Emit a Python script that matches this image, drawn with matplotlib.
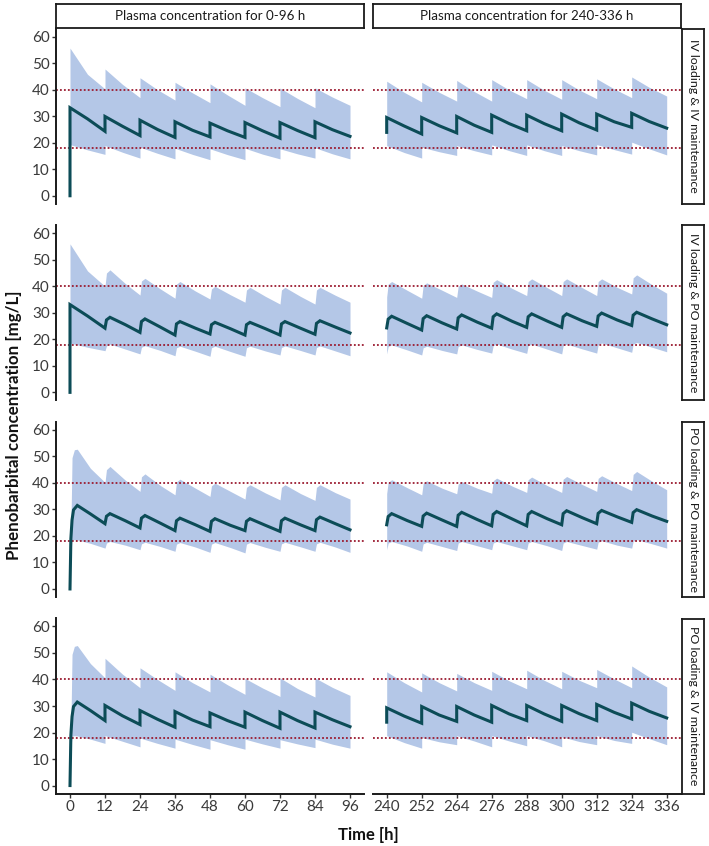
import matplotlib
matplotlib.use("Agg")
import matplotlib.pyplot as plt

plt.rcParams['font.family'] = ['Lato', 'DejaVu Sans']

# ---------------- data ----------------
col_titles = ["Plasma concentration for 0-96 h", "Plasma concentration for 240-336 h"]
row_titles = ["IV loading & IV maintenance", "IV loading & PO maintenance",
              "PO loading & PO maintenance", "PO loading & IV maintenance"]
x_ticks_early = [0, 12, 24, 36, 48, 60, 72, 84, 96]
x_ticks_late = [240, 252, 264, 276, 288, 300, 312, 324, 336]
y_ticks = [0, 10, 20, 30, 40, 50, 60]
target_range = [18, 40]

doses_early = [0, 12, 24, 36, 48, 60, 72, 84]
doses_late = [240, 252, 264, 276, 288, 300, 312, 324]

# sample times after each dose (h): IV -> peak, mid, trough ; PO -> rising, peak, mid, trough
iv_offsets = [0, 6, 12]
po_offsets = [0.5, 1.7, 7, 12]
# oral loading dose, first interval
po_load_t_median = [0, 0.3, 0.7, 1.2, 2.5, 7, 12]
po_load_t_band = [0.3, 0.7, 1.5, 2.5, 7, 12]

# ---- Row 1: IV loading & IV maintenance ----
r1_early_med = [0.0,
                33.2, 29.0, 24.3, 29.9, 26.2, 22.7, 28.5, 25.0, 22.0, 27.9, 24.7, 22.2,
                27.4, 24.5, 22.0, 27.6, 24.5, 21.7, 27.6, 24.6, 21.9, 27.9, 24.9, 22.4]
r1_early_hi = [55.7, 45.8, 40.3, 47.8, 42.0, 37.0, 44.5, 40.0, 36.1, 42.8, 38.8, 35.1,
               42.2, 38.0, 34.1, 40.7, 37.0, 33.6, 40.6, 36.7, 33.2, 40.7, 37.2, 34.1]
r1_early_lo = [19.3, 17.3, 15.6, 18.9, 16.4, 14.2, 18.3, 16.0, 13.9, 17.9, 15.6, 13.6,
               17.7, 15.5, 13.6, 17.9, 15.7, 13.9, 17.7, 15.8, 14.2, 18.1, 15.8, 13.9]
r1_late_med = [23.9,
               29.5, 26.3, 23.3, 29.5, 26.4, 23.7, 29.9, 26.6, 23.9, 30.4, 27.2, 24.5,
               30.4, 27.2, 24.5, 30.8, 27.5, 24.8, 30.8, 27.9, 25.8, 31.1, 28.0, 25.5]
r1_late_hi = [43.2, 39.0, 35.4, 42.8, 39.0, 35.7, 43.5, 39.3, 35.7, 43.8, 39.9, 36.6,
              43.8, 39.8, 36.4, 43.8, 39.9, 36.6, 44.1, 40.3, 37.0, 44.8, 40.9, 37.6]
r1_late_lo = [18.9, 16.3, 14.2, 18.3, 16.6, 15.2, 18.9, 17.0, 15.4, 19.2, 17.0, 15.2,
              19.2, 17.0, 15.2, 18.9, 17.0, 15.4, 19.3, 17.4, 15.7, 20.2, 17.7, 15.4]

# ---- Row 2: IV loading & PO maintenance ----
r2_early_med = [0.0, 33.1, 28.8, 24.2,
                27.3, 28.3, 25.5, 22.6, 26.7, 27.7, 24.6, 21.6, 25.8, 26.7, 24.2, 22.0,
                25.5, 26.4, 24.0, 21.6, 25.5, 26.4, 24.0, 21.6, 25.8, 26.7, 24.2, 21.9,
                26.0, 27.0, 24.6, 22.4]
r2_early_hi = [56.0, 45.8, 40.0,
               45.0, 46.2, 41.0, 36.7, 42.0, 43.0, 39.0, 35.5, 40.8, 41.8, 38.2, 35.2,
               39.0, 40.0, 36.8, 34.0, 38.6, 39.6, 36.2, 33.3, 38.6, 39.6, 36.2, 33.3,
               38.6, 39.6, 36.6, 34.0]
r2_early_lo = [18.6, 17.0, 15.7,
               17.5, 18.2, 16.3, 14.5, 17.0, 17.6, 15.8, 13.8, 16.8, 17.4, 15.5, 13.6,
               16.8, 17.4, 15.4, 13.6, 16.8, 17.4, 15.6, 14.1, 16.9, 17.5, 15.8, 14.1,
               16.9, 17.5, 15.6, 13.8]
r2_late_med = [24.3,
               27.6, 28.7, 26.0, 23.5, 27.8, 28.9, 26.2, 23.9, 28.1, 29.2, 26.5, 24.2,
               28.5, 29.6, 26.8, 24.5, 28.5, 29.6, 26.9, 24.5, 28.5, 29.6, 27.0, 24.9,
               28.8, 29.9, 27.3, 25.2, 29.1, 30.2, 27.7, 25.5]
r2_late_hi = [36.0,
              40.8, 41.8, 38.5, 35.5, 40.3, 41.3, 38.5, 35.8, 40.0, 40.9, 38.2, 35.8,
              41.5, 42.5, 39.2, 36.5, 41.8, 42.8, 39.5, 36.5, 41.8, 42.8, 39.5, 36.5,
              41.8, 42.8, 39.6, 37.1, 43.2, 44.3, 40.6, 37.4]
r2_late_lo = [14.5,
              17.3, 17.9, 16.0, 14.1, 16.8, 17.4, 15.8, 14.5, 17.3, 17.9, 16.2, 14.8,
              17.6, 18.2, 16.3, 14.7, 17.6, 18.2, 16.3, 14.5, 17.6, 18.2, 16.4, 14.8,
              18.0, 18.6, 16.8, 15.1, 18.2, 18.8, 17.0, 15.3]

# ---- Row 3: PO loading & PO maintenance ----
r3_early_med = [0.0, 19.0, 26.0, 29.8, 31.5, 28.3, 24.6,
                27.4, 28.4, 25.7, 23.0, 26.7, 27.7, 24.8, 22.0, 25.7, 26.7, 24.2, 21.7,
                25.5, 26.5, 24.0, 22.0, 25.5, 26.5, 24.0, 21.7, 25.7, 26.7, 24.2, 22.0,
                26.1, 27.1, 24.6, 22.3]
r3_early_hi = [22.0, 49.5, 52.5, 52.7, 45.5, 40.2,
               45.0, 46.2, 41.0, 36.8, 42.3, 43.4, 39.0, 35.5, 40.4, 41.4, 38.0, 34.9,
               38.9, 39.9, 36.8, 33.9, 38.3, 39.3, 36.2, 33.6, 38.3, 39.3, 36.0, 33.4,
               38.3, 39.3, 36.3, 33.9]
r3_early_lo = [14.0, 18.4, 18.6, 18.5, 17.2, 15.4,
               17.3, 17.9, 16.5, 14.8, 17.0, 17.6, 16.0, 14.2, 16.9, 17.5, 15.8, 13.8,
               16.9, 17.5, 15.6, 13.6, 16.9, 17.5, 15.7, 14.2, 17.0, 17.6, 15.9, 14.2,
               17.0, 17.6, 15.8, 13.8]
r3_late_med = [24.2,
               27.3, 28.4, 25.8, 23.6, 27.5, 28.6, 26.0, 23.6, 27.8, 28.9, 26.2, 23.8,
               28.1, 29.2, 26.4, 23.8, 28.1, 29.2, 26.5, 24.2, 28.4, 29.5, 26.9, 24.6,
               28.5, 29.6, 27.2, 25.1, 28.8, 29.9, 27.5, 25.5]
r3_late_hi = [36.0,
              40.2, 41.2, 38.2, 35.5, 39.8, 40.8, 38.0, 35.9, 39.5, 40.5, 38.0, 36.1,
              40.8, 41.8, 38.8, 36.4, 41.2, 42.2, 39.0, 36.4, 41.4, 42.4, 39.4, 36.8,
              41.7, 42.7, 39.7, 37.1, 43.2, 44.3, 40.6, 37.4]
r3_late_lo = [14.8,
              17.3, 17.9, 16.2, 14.2, 17.0, 17.6, 16.0, 14.5, 17.3, 17.9, 16.3, 14.8,
              17.3, 17.9, 16.3, 14.8, 17.3, 17.9, 16.3, 14.5, 17.3, 17.9, 16.4, 15.0,
              17.6, 18.2, 16.5, 15.4, 18.0, 18.6, 17.0, 15.4]

# ---- Row 4: PO loading & IV maintenance ----
r4_early_med = [0.0, 19.0, 26.0, 29.8, 31.5, 28.3, 24.5,
                30.2, 26.3, 23.0, 28.3, 25.0, 22.0, 27.9, 24.7, 22.2, 27.4, 24.5, 22.0,
                27.7, 24.5, 21.6, 27.7, 24.5, 21.7, 27.7, 24.8, 22.2]
r4_early_hi = [22.0, 49.5, 52.5, 52.8, 46.0, 40.6,
               48.0, 42.0, 36.9, 44.4, 40.0, 35.9, 42.9, 38.8, 35.3, 42.0, 38.0, 34.4,
               40.4, 36.8, 33.6, 40.6, 36.6, 33.4, 40.6, 37.0, 34.0]
r4_early_lo = [14.0, 18.6, 18.8, 18.7, 17.5, 15.9,
               18.8, 16.7, 14.6, 17.9, 15.9, 14.1, 17.5, 15.5, 13.7, 17.3, 15.4, 13.7,
               17.5, 15.7, 14.1, 17.3, 15.7, 14.3, 17.5, 15.6, 14.1]
r4_late_med = [23.9,
               29.3, 26.2, 23.5, 29.8, 26.6, 24.2, 29.8, 26.6, 23.9, 30.2, 27.0, 24.5,
               30.2, 27.0, 24.2, 30.2, 27.1, 24.5, 30.6, 27.6, 25.1, 31.1, 28.0, 25.5]
r4_late_hi = [42.9, 38.8, 35.3, 42.5, 38.8, 35.7, 42.3, 38.8, 35.9, 43.1, 39.5, 36.5,
              43.5, 39.7, 36.5, 43.1, 39.7, 36.9, 43.8, 40.2, 36.9, 45.1, 40.9, 37.2]
r4_late_lo = [18.8, 16.2, 14.1, 18.1, 16.5, 15.4, 18.8, 16.8, 14.6, 18.8, 16.8, 15.0,
              18.8, 16.9, 14.6, 18.4, 16.6, 15.4, 18.8, 17.0, 15.9, 20.1, 17.7, 15.4]


# ---------------- assemble times ----------------
def after(doses, offsets):
    return [d + o for d in doses for o in offsets]


iv_e = after(doses_early, iv_offsets)
iv_l = after(doses_late, iv_offsets)
po_l = after(doses_late, po_offsets)

panels = [
    # row, col, t_median, median, t_band, hi, lo
    (0, 0, [0] + iv_e, r1_early_med, iv_e, r1_early_hi, r1_early_lo),
    (0, 1, [240] + iv_l, r1_late_med, iv_l, r1_late_hi, r1_late_lo),
    (1, 0, [0] + after([0], iv_offsets) + after(doses_early[1:], po_offsets), r2_early_med,
     after([0], iv_offsets) + after(doses_early[1:], po_offsets), r2_early_hi, r2_early_lo),
    (1, 1, [240] + po_l, r2_late_med, [240] + po_l, r2_late_hi, r2_late_lo),
    (2, 0, po_load_t_median + after(doses_early[1:], po_offsets), r3_early_med,
     po_load_t_band + after(doses_early[1:], po_offsets), r3_early_hi, r3_early_lo),
    (2, 1, [240] + po_l, r3_late_med, [240] + po_l, r3_late_hi, r3_late_lo),
    (3, 0, po_load_t_median + after(doses_early[1:], iv_offsets), r4_early_med,
     po_load_t_band + after(doses_early[1:], iv_offsets), r4_early_hi, r4_early_lo),
    (3, 1, [240] + iv_l, r4_late_med, iv_l, r4_late_hi, r4_late_lo),
]

# ---------------- figure ----------------
W, H = 709, 846
fig = plt.figure(figsize=(W / 100, H / 100), dpi=100)

col_x = [(56.0, 364.0), (372.7, 680.7)]
row_top = [28.7, 225.3, 421.9, 618.5]
row_h = 175.0

band_c = '#b4c7e7'
line_c = '#0c4c57'
ref_c = '#9b1b30'
text_c = '#3a3a3a'


def fig_rect(x0, y0, x1, y1):
    return [x0 / W, 1 - y1 / H, (x1 - x0) / W, (y1 - y0) / H]


for (r, c, tm, med, tb, hi, lo) in panels:
    x0, x1 = col_x[c]
    ax = fig.add_axes(fig_rect(x0, row_top[r], x1, row_top[r] + row_h))
    ax.fill_between(tb, lo, hi, color=band_c, lw=0, zorder=1)
    ax.plot(tm, med, color=line_c, lw=2.2, zorder=3, solid_joinstyle='miter')
    for yv in target_range:
        ax.axhline(yv, color=ref_c, lw=1.3, ls=(0, (1, 1.2)), zorder=2)
    ax.set_ylim(-3, 63)
    if c == 0:
        ax.set_xlim(-4.8, 100.8)
        ax.set_xticks(x_ticks_early)
    else:
        ax.set_xlim(235.2, 340.8)
        ax.set_xticks(x_ticks_late)
    ax.set_yticks(y_ticks)
    for s in ['top', 'right']:
        ax.spines[s].set_visible(False)
    ax.spines['left'].set_visible(c == 0)
    ax.spines['bottom'].set_visible(r == 3)
    for s in ['left', 'bottom']:
        ax.spines[s].set_linewidth(1.4)
        ax.spines[s].set_color('#1a1a1a')
    ax.tick_params(axis='y', left=(c == 0), labelleft=(c == 0), length=3, width=1.0,
                   color='#333333', labelsize=11, labelcolor=text_c, pad=1.5)
    ax.tick_params(axis='x', bottom=(r == 3), labelbottom=(r == 3), length=3, width=1.0,
                   color='#333333', labelsize=11, labelcolor=text_c, pad=1.5)
    ax.patch.set_alpha(0)

# top strips
for c in range(2):
    x0, x1 = col_x[c]
    sax = fig.add_axes(fig_rect(x0, 4.0, x1, 28.0))
    sax.set_xticks([]); sax.set_yticks([])
    for s in sax.spines.values():
        s.set_linewidth(1.3); s.set_color('#1a1a1a')
    sax.text(0.5, 0.5, col_titles[c], ha='center', va='center', fontsize=9.6,
             color='#1a1a1a', transform=sax.transAxes)

# right strips
for r in range(4):
    sax = fig.add_axes(fig_rect(681.7, row_top[r], 704.5, row_top[r] + row_h))
    sax.set_xticks([]); sax.set_yticks([])
    for s in sax.spines.values():
        s.set_linewidth(1.3); s.set_color('#1a1a1a')
    sax.text(0.5, 0.5, row_titles[r], ha='center', va='center', fontsize=8.9,
             rotation=-90, color='#1a1a1a', transform=sax.transAxes)

# axis titles
fig.text(14 / W, 1 - 425 / H, "Phenobarbital concentration [mg/L]", rotation=90,
         ha='center', va='center', fontsize=12.2, fontweight='bold', color='#111111')
fig.text(368 / W, 1 - 835 / H, "Time [h]", ha='center', va='center', fontsize=12,
         fontweight='bold', color='#111111')

fig.savefig("out.png", dpi=100)
